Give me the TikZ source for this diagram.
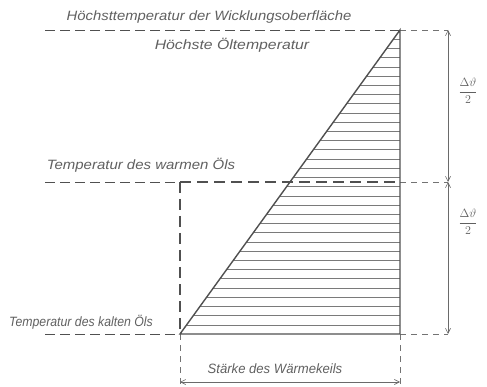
\documentclass[tikz,border=0pt]{standalone}
\usepackage{fontspec}
\setmainfont{Liberation Sans}
\usetikzlibrary{arrows.meta}
\definecolor{ink}{HTML}{505050}
\definecolor{txt}{HTML}{606060}
\definecolor{hat}{HTML}{7A7A7A}
\begin{document}
\begin{tikzpicture}[x=1pt,y=-1pt,
  lbl/.style={text=txt,inner sep=0pt,font=\fontsize{13.5}{15}\selectfont\itshape},
  frac/.style={text=txt,inner sep=0pt,font=\fontsize{11.5}{13}\selectfont},
  mainline/.style={draw=ink,line width=1.4pt},
  thickdash/.style={draw=ink,line width=1.5pt,dash pattern=on 11pt off 6pt},
  leftdash/.style={draw=ink,line width=0.9pt,dash pattern=on 10pt off 5pt},
  thindash/.style={draw=ink!80,line width=0.5pt,dash pattern=on 6pt off 5pt},
  hatchline/.style={draw=hat,line width=0.55pt},
  dimline/.style={draw=ink!85,line width=0.6pt,{Straight Barb[length=5pt,width=5pt]}-{Straight Barb[length=5pt,width=5pt]}}
]
\useasboundingbox (0,0) rectangle (487,387);
% key points
\coordinate (A) at (400,30);   % apex
\coordinate (B) at (180,334);  % bottom left
\coordinate (C) at (400,334);  % bottom right
\coordinate (W) at (180,182);  % warm oil corner
\coordinate (WR) at (400,182);
\coordinate (TL) at (45,30);
\coordinate (ML) at (45,182);
\coordinate (BL) at (45,334);
\coordinate (DT) at (448,30);
\coordinate (DM) at (448,182);
\coordinate (DB) at (448,334);
\coordinate (SL) at (180,382);
\coordinate (SR) at (400,382);
\coordinate (SLe) at (180,386);
\coordinate (SRe) at (400,386);

% hatching
\foreach \k in {1,...,32}{
  \pgfmathsetmacro\yy{334-\k*9.2121}
  \pgfmathsetmacro\xx{180+\k*6.6667}
  \draw[hatchline] (\xx,\yy) -- (400,\yy);
}

% dashed level lines
\draw[leftdash] (TL) -- (A);
\draw[leftdash] (ML) -- (W);
\draw[leftdash] (BL) -- (B);
\draw[thickdash] (W) -- (WR);
\draw[thickdash] (W) -- (B);
\draw[thindash] (A) -- (DT);
\draw[thindash] (WR) -- (DM);
\draw[thindash] (C) -- (DB);
\draw[thindash] (B) -- (SLe);
\draw[thindash] (C) -- (SRe);

% triangle
\draw[mainline,line join=miter] (A) -- (B) -- (C) -- cycle;

% dimensions
\draw[dimline] (DT) -- (DM);
\draw[dimline] (DM) -- (DB);
\draw[dimline] (SL) -- (SR);

% labels
\node[lbl] (t1) at (209,17) {\scalebox{1.10}[1]{Höchsttemperatur der Wicklungsoberfläche}};
\node[lbl] (t2) at (232,45) {\scalebox{1.17}[1]{Höchste Öltemperatur}};
\node[lbl] (t3) at (141,165) {\scalebox{1.11}[1]{Temperatur des warmen Öls}};
\node[lbl] (t4) at (81,322) {\scalebox{0.91}[1]{Temperatur des kalten Öls}};
\node[lbl] (t5) at (275,369) {\scalebox{0.97}[1]{Stärke des Wärmekeils}};
\node[frac] (f1) at (468,91) {$\displaystyle\frac{\Delta\vartheta}{2}$};
\node[frac] (f2) at (468,222) {$\displaystyle\frac{\Delta\vartheta}{2}$};
\end{tikzpicture}
\end{document}
